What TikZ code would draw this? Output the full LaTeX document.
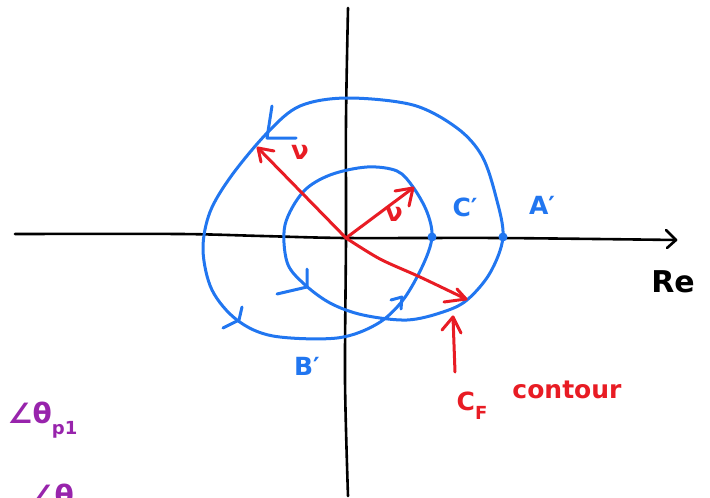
\documentclass[tikz,border=0pt]{standalone}
\usepackage{fontspec}
\setmainfont{DejaVu Sans}
\usetikzlibrary{arrows.meta}
\definecolor{penblue}{RGB}{33,118,240}
\definecolor{penred}{RGB}{232,28,36}
\definecolor{penpurple}{RGB}{152,36,172}
\begin{document}
\begin{tikzpicture}[x=1pt,y=-1pt,line cap=round,line join=round,
  axis/.style={black,line width=2.6pt},
  curve/.style={penblue,line width=3pt},
  vec/.style={penred,line width=3pt},
  dotmark/.style={circle,fill=penblue,inner sep=0pt,minimum size=9pt},
  bluelbl/.style={text=penblue,font=\bfseries\fontsize{25}{25}\selectfont},
  redlbl/.style={text=penred,font=\bfseries\fontsize{25}{25}\selectfont},
  purplbl/.style={text=penpurple,font=\bfseries\fontsize{28}{28}\selectfont}]
\useasboundingbox (0,0) rectangle (710,498);
\clip (0,0) rectangle (710,498);
% axes
\coordinate (O) at (346,238);
\coordinate (ytop) at (348,8);
\coordinate (ybot) at (348,496);
\coordinate (xleft) at (15,234);
\coordinate (xright) at (676,240);
\draw[axis] plot[smooth] coordinates {(ytop) (346,120) (O) (345,380) (ybot)};
\draw[axis] plot[smooth] coordinates {(xleft) (180,234) (262,236) (O) (500,238) (xright)};
\draw[axis] (666,230) -- (xright) -- (667,248);
\node[font=\bfseries\fontsize{30}{30}\selectfont] (re) at (673,282) {Re};
% Nyquist curve
\draw[curve] plot[smooth cycle,tension=0.55] coordinates {
 (503,237) (496,197) (482,156) (457,128) (413,105) (347,98) (300,106) (268,132)
 (232,175) (210,212) (203,250) (212,290) (237,320) (273,336) (337,338)
 (377,324) (403,300) (423,265) (432,237) (427,212) (413,187) (397,171)
 (367,167) (330,175) (303,192) (285,225) (287,262) (303,283) (330,303)
 (363,315) (407,320) (443,312) (467,300) (490,273)};
% direction chevrons
\draw[curve] (272,106) -- (267,138) -- (296,138);
\draw[curve] (242,307) -- (239,320) -- (223,328);
\draw[curve] (391,300) -- (402,297) -- (401,309);
\draw[curve] (307,269) -- (307,287) -- (277,294);
% points
\node[dotmark] (Cp) at (432,237) {};
\node[dotmark] (Ap) at (503,237) {};
\node[bluelbl] (Cl) at (465,207) {C′};
\node[bluelbl] (Al) at (542,205) {A′};
\node[bluelbl] (Bl) at (307,366) {B′};
% red vectors
\coordinate (v1) at (258,148);
\coordinate (v2) at (413,188);
\coordinate (v3) at (466,299);
\draw[vec] (O) -- (v1);
\draw[vec] (274,151) -- (v1) -- (261,162);
\draw[vec] (O) -- (v2);
\draw[vec] (395,191) -- (v2) -- (409,206);
\draw[vec] plot[smooth] coordinates {(O) (380,259) (420,277) (v3)};
\draw[vec] (444,302) -- (v3) -- (457,289);
\node[text=penred,font=\bfseries\fontsize{26}{26}\selectfont] (n1) at (300,152) {ν};
\node[text=penred,font=\bfseries\fontsize{26}{26}\selectfont] (n2) at (394,214) {ν};
% contour pointer
\coordinate (ptip) at (453,317);
\coordinate (pbase) at (455,372);
\draw[vec] (pbase) -- (ptip);
\draw[vec] (442,330) -- (ptip) -- (461,333);
\node[redlbl] (cf) at (472,406) {C\raisebox{-0.35em}{\fontsize{18}{18}\selectfont F}};
\node[redlbl] (ct) at (567,390) {contour};
% purple notes
\node[purplbl,anchor=west] (th1) at (4,420) {∠θ\raisebox{-0.4em}{\fontsize{18}{18}\selectfont p1}};
\node[purplbl,anchor=north west] (th2) at (26,480) {∠θ};
\end{tikzpicture}
\end{document}
